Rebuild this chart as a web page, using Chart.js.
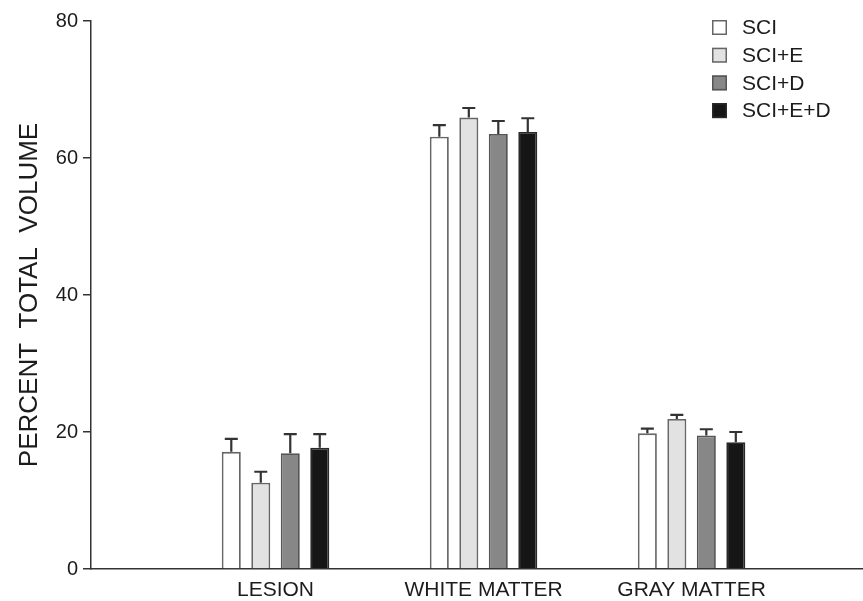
<!DOCTYPE html>
<html>
<head>
<meta charset="utf-8">
<script src="https://cdn.jsdelivr.net/npm/chart.js@4.4.1/dist/chart.umd.min.js"></script>
<style>
html,body{margin:0;padding:0;background:#fff;}
canvas{display:block;}
</style>
</head>
<body>
<canvas id="c" width="863" height="601"></canvas>
<script>
const categories = ['LESION', 'WHITE MATTER', 'GRAY MATTER'];
const seriesLabels = ['SCI', 'SCI+E', 'SCI+D', 'SCI+E+D'];
const sci      = [17.1, 63.1, 19.8];
const sciE     = [12.6, 65.9, 21.9];
const sciD     = [16.9, 63.5, 19.5];
const sciED    = [17.7, 63.8, 18.5];
const errSci   = [1.9, 1.7, 0.7];
const errSciE  = [1.6, 1.4, 0.6];
const errSciD  = [2.8, 1.9, 0.9];
const errSciED = [2.0, 2.0, 1.5];
const yTicks = [0, 20, 40, 60, 80];

const fills = ['#ffffff', '#e2e2e2', '#878787', '#161616'];
const borders = ['#666666', '#666666', '#555555', '#2a2a2a'];
const values = [sci, sciE, sciD, sciED];
const errs = [errSci, errSciE, errSciD, errSciED];

const FONT = 'Liberation Sans, Arial, Helvetica, sans-serif';

const datasets = values.map((arr, i) => ({
  label: seriesLabels[i],
  data: arr.map((v, j) => ({x: j + 1, y: v})),
  errors: errs[i],
  backgroundColor: fills[i],
  borderColor: borders[i],
  borderWidth: 1.8,
  borderSkipped: 'bottom',
  categoryPercentage: 0.567,
  barPercentage: 0.645
}));

const errorBars = {
  id: 'errorBars',
  afterDatasetsDraw(chart) {
    const ctx = chart.ctx;
    const ys = chart.scales.y;
    ctx.save();
    ctx.strokeStyle = '#333';
    ctx.lineWidth = 2.2;
    chart.data.datasets.forEach((ds, i) => {
      const meta = chart.getDatasetMeta(i);
      meta.data.forEach((el, j) => {
        const top = ys.getPixelForValue(ds.data[j].y + ds.errors[j]);
        ctx.beginPath();
        ctx.moveTo(el.x, el.y);
        ctx.lineTo(el.x, top);
        ctx.moveTo(el.x - 6.5, top);
        ctx.lineTo(el.x + 6.5, top);
        ctx.stroke();
      });
    });
    ctx.restore();
  }
};

const boxLegend = {
  id: 'boxLegend',
  afterDraw(chart) {
    const ctx = chart.ctx;
    ctx.save();
    ctx.font = '21px ' + FONT;
    ctx.textBaseline = 'middle';
    ctx.textAlign = 'left';
    chart.data.datasets.forEach((ds, i) => {
      const y = 20 + i * 27.7;
      ctx.fillStyle = ds.backgroundColor;
      ctx.fillRect(712, y, 15, 15);
      ctx.strokeStyle = ds.borderColor;
      ctx.lineWidth = 1.5;
      ctx.strokeRect(712.75, y + 0.75, 13.5, 13.5);
      ctx.fillStyle = '#1c1c1c';
      ctx.fillText(ds.label, 742, y + 8.5);
    });
    ctx.restore();
  }
};

new Chart(document.getElementById('c'), {
  type: 'bar',
  data: { datasets },
  options: {
    responsive: false,
    animation: false,
    layout: { padding: { top: 21, right: 0, left: 0, bottom: 0 } },
    plugins: { legend: { display: false }, tooltip: { enabled: false } },
    scales: {
      x: {
        type: 'linear',
        min: 0.113,
        max: 3.824,
        offset: false,
        afterBuildTicks: (s) => { s.ticks = categories.map((c, i) => ({value: i + 1})); },
        afterFit: (s) => { s.height = 32; },
        ticks: {
          callback: (v) => categories[Math.round(v) - 1],
          color: '#1c1c1c',
          font: { family: FONT, size: 21 },
          padding: 9,
          maxRotation: 0,
          autoSkip: false
        },
        grid: { display: true, drawOnChartArea: false, drawTicks: false },
        border: { display: true, color: '#333', width: 1.5 }
      },
      y: {
        min: 0,
        max: 80,
        afterBuildTicks: (s) => { s.ticks = yTicks.map(v => ({value: v})); },
        afterFit: (s) => { s.width = 91; },
        ticks: {
          color: '#1c1c1c',
          font: { family: FONT, size: 20 },
          padding: 5
        },
        grid: { drawOnChartArea: false, drawTicks: true, tickLength: 8, color: '#333', lineWidth: 1.5 },
        border: { display: true, color: '#333', width: 1.5 },
        title: {
          display: true,
          text: 'PERCENT  TOTAL  VOLUME',
          color: '#1c1c1c',
          font: { family: FONT, size: 26, lineHeight: 1 },
          padding: { top: 17, bottom: 0 }
        }
      }
    }
  },
  plugins: [errorBars, boxLegend]
});
</script>
</body>
</html>
